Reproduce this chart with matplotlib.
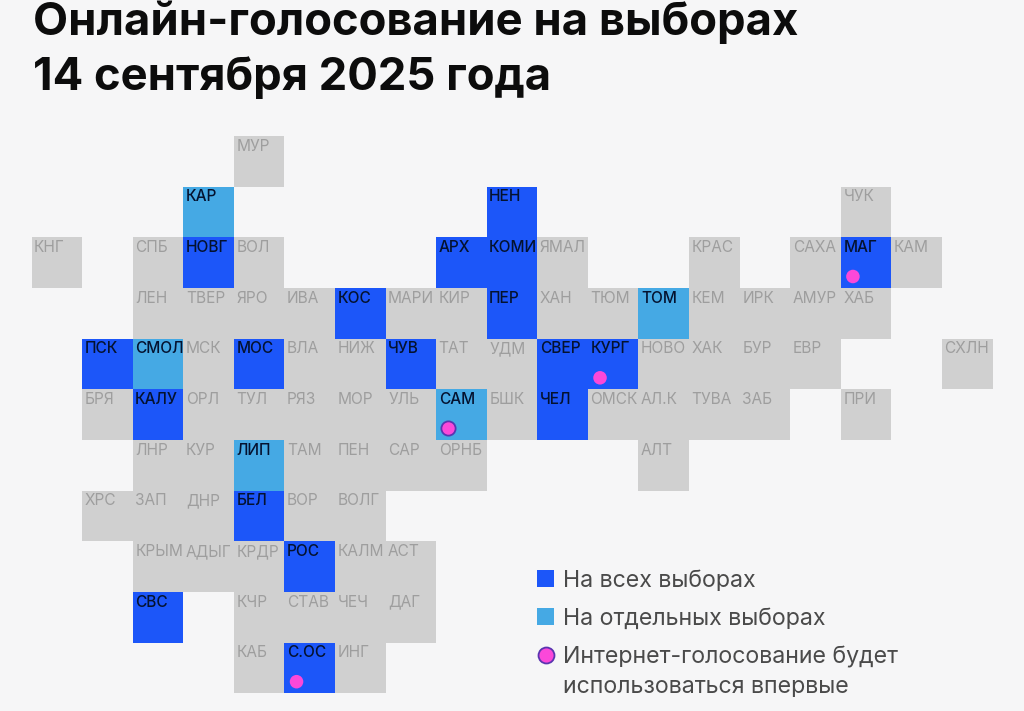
import matplotlib
matplotlib.use("Agg")
import matplotlib.pyplot as plt
from matplotlib.patches import Rectangle

# Tile-map data: label, grid column, grid row, status, first-time flag
labels = ["МУР",
          "КАР", "НЕН", "ЧУК",
          "КНГ", "СПБ", "НОВГ", "ВОЛ", "АРХ", "КОМИ", "ЯМАЛ", "КРАС", "САХА", "МАГ", "КАМ",
          "ЛЕН", "ТВЕР", "ЯРО", "ИВА", "КОС", "МАРИ", "КИР", "ПЕР", "ХАН", "ТЮМ", "ТОМ", "КЕМ", "ИРК", "АМУР", "ХАБ",
          "ПСК", "СМОЛ", "МСК", "МОС", "ВЛА", "НИЖ", "ЧУВ", "ТАТ", "УДМ", "СВЕР", "КУРГ", "НОВО", "ХАК", "БУР", "ЕВР", "СХЛН",
          "БРЯ", "КАЛУ", "ОРЛ", "ТУЛ", "РЯЗ", "МОР", "УЛЬ", "САМ", "БШК", "ЧЕЛ", "ОМСК", "АЛ.К", "ТУВА", "ЗАБ", "ПРИ",
          "ЛНР", "КУР", "ЛИП", "ТАМ", "ПЕН", "САР", "ОРНБ", "АЛТ",
          "ХРС", "ЗАП", "ДНР", "БЕЛ", "ВОР", "ВОЛГ",
          "КРЫМ", "АДЫГ", "КРДР", "РОС", "КАЛМ", "АСТ",
          "СВС", "КЧР", "СТАВ", "ЧЕЧ", "ДАГ",
          "КАБ", "С.ОС", "ИНГ"]
cols = [4,
        3, 9, 16,
        0, 2, 3, 4, 8, 9, 10, 13, 15, 16, 17,
        2, 3, 4, 5, 6, 7, 8, 9, 10, 11, 12, 13, 14, 15, 16,
        1, 2, 3, 4, 5, 6, 7, 8, 9, 10, 11, 12, 13, 14, 15, 18,
        1, 2, 3, 4, 5, 6, 7, 8, 9, 10, 11, 12, 13, 14, 16,
        2, 3, 4, 5, 6, 7, 8, 12,
        1, 2, 3, 4, 5, 6,
        2, 3, 4, 5, 6, 7,
        2, 4, 5, 6, 7,
        4, 5, 6]
rows = [0,
        1, 1, 1,
        2, 2, 2, 2, 2, 2, 2, 2, 2, 2, 2,
        3, 3, 3, 3, 3, 3, 3, 3, 3, 3, 3, 3, 3, 3, 3,
        4, 4, 4, 4, 4, 4, 4, 4, 4, 4, 4, 4, 4, 4, 4, 4,
        5, 5, 5, 5, 5, 5, 5, 5, 5, 5, 5, 5, 5, 5, 5,
        6, 6, 6, 6, 6, 6, 6, 6,
        7, 7, 7, 7, 7, 7,
        8, 8, 8, 8, 8, 8,
        9, 9, 9, 9, 9,
        10, 10, 10]
all_elections = ["НЕН", "НОВГ", "АРХ", "КОМИ", "МАГ", "КОС", "ПЕР", "ПСК", "МОС", "ЧУВ", "СВЕР", "КУРГ",
                 "КАЛУ", "ЧЕЛ", "БЕЛ", "РОС", "СВС", "С.ОС"]
some_elections = ["КАР", "ТОМ", "СМОЛ", "САМ", "ЛИП"]
first_time = ["МАГ", "КУРГ", "САМ", "С.ОС"]
first_time_outlined = ["САМ"]
title_lines = ["Онлайн-голосование на выборах", "14 сентября 2025 года"]
legend_labels = ["На всех выборах", "На отдельных выборах",
                 "Интернет-голосование будет", "использоваться впервые"]

BG = "#f6f6f7"
GREY = "#d0d0d0"
BLUE = "#1c56f9"
LIGHT = "#45a9e4"
MAGENTA = "#fb48d9"
EDGE = "#5a35b0"
W, H = 1024, 711
CW, CH = 50.58, 50.65
X0, Y0 = 31.5, 136.2

plt.rcParams["font.family"] = ["Inter", "DejaVu Sans"]
fig = plt.figure(figsize=(W / 100, H / 100), dpi=100, facecolor=BG)
ax = fig.add_axes([0, 0, 1, 1])
ax.set_xlim(-X0 / CW, (W - X0) / CW)
ax.set_ylim((H - Y0) / CH, -Y0 / CH)
ax.axis("off")


def colour(name):
    if name in all_elections:
        return BLUE
    if name in some_elections:
        return LIGHT
    return GREY


ax.bar(cols, [1] * len(cols), width=1, bottom=rows, align="edge",
       color=[colour(n) for n in labels], linewidth=0)

for name, c, r in zip(labels, cols, rows):
    highlighted = name in all_elections or name in some_elections
    ax.text(c + 0.05, r + 0.2, name, ha="left", va="center", fontsize=11.1,
            color="#04122f" if highlighted else "#9e9e9e",
            fontweight="medium" if highlighted else "normal")
    if name in first_time:
        outlined = name in first_time_outlined
        ax.scatter(c + 0.24, r + 0.77, s=105 if outlined else 95, color=MAGENTA,
                   edgecolors=EDGE if outlined else "none",
                   linewidths=1.3 if outlined else 0, zorder=3)

for text, y in zip(title_lines, (35, 90)):
    fig.text(33 / W, 1 - y / H, text, fontsize=32.7, fontweight="bold",
             color="#0c0c0c", ha="left", va="baseline")


def fx(px):
    return px / W


def fy(py):
    return 1 - py / H


for colr, top in ((BLUE, 570), (LIGHT, 608)):
    fig.add_artist(Rectangle((fx(537), fy(top + 17)), 17 / W, 17 / H,
                             transform=fig.transFigure, facecolor=colr, edgecolor="none"))
fig.add_artist(plt.Line2D([fx(545.5)], [fy(654.5)], marker="o", markersize=11.5,
                          markerfacecolor=MAGENTA, markeredgecolor=EDGE, markeredgewidth=1.3,
                          transform=fig.transFigure))
for text, y in zip(legend_labels, (587, 625, 663, 693)):
    fig.text(fx(563), fy(y), text, fontsize=16.7, color="#4a4a4a", ha="left", va="baseline")

fig.savefig("out.png", dpi=100, facecolor=BG)
